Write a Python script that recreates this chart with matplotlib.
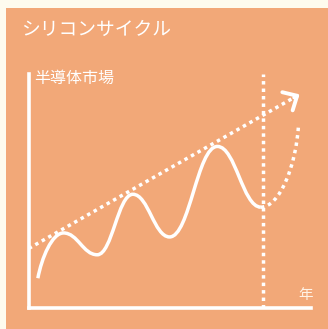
import matplotlib
matplotlib.use("Agg")
import matplotlib.pyplot as plt
from matplotlib.path import Path
from matplotlib.patches import PathPatch, Rectangle

plt.rcParams['font.family'] = ['Noto Sans CJK JP', 'DejaVu Sans']

# ---- data (arbitrary units: year 0..10, market 0..10) ----
cycle_years = [0.32, 1.23, 2.42, 3.68, 4.98, 6.67, 8.21]
cycle_market = [1.27, 3.20, 2.27, 4.85, 3.03, 6.89, 4.30]
forecast_years = [8.21, 9.54]
forecast_market = [4.30, 7.80]
trend_years = [0.0, 9.58]
trend_market = [2.54, 9.11]
now_year = 8.28

title = "シリコンサイクル"
ylabel = "半導体市場"
xlabel = "年"

BG = "#FEFBEE"
ORANGE = "#F2A878"
WHITE = "#FFFFFF"

W, H = 328, 329
fig = plt.figure(figsize=(W / 100, H / 100), dpi=100)
fig.patch.set_facecolor(BG)
fig.add_artist(Rectangle((6 / W, 0), 1, (H - 8) / H, transform=fig.transFigure,
                         facecolor=ORANGE, edgecolor='none', zorder=0))

left, right, top, bottom = 28.8, 311.5, 73.5, 308.0
ax = fig.add_axes([left / W, (H - bottom) / H, (right - left) / W, (bottom - top) / H])
ax.set_facecolor('none')
ax.set_xlim(0, 10)
ax.set_ylim(0, 10)
for s in ['top', 'right']:
    ax.spines[s].set_visible(False)
for s in ['left', 'bottom']:
    ax.spines[s].set_color(WHITE)
    ax.spines[s].set_linewidth(2.6)
ax.set_xticks([])
ax.set_yticks([])

LW = 2.5
DOT = (0, (1, 1.15))

# solid cycle curve via cubic Bezier segments
verts = [(cycle_years[0], cycle_market[0])]
codes = [Path.MOVETO]
for i in range(len(cycle_years) - 1):
    x0, y0 = cycle_years[i], cycle_market[i]
    x1, y1 = cycle_years[i + 1], cycle_market[i + 1]
    dx, dy = x1 - x0, y1 - y0
    if i == 0:
        c1 = (x0 + 0.15 * dx, y0 + 0.45 * dy)
        c2 = (x1 - 0.45 * dx, y1)
    else:
        k = 0.42
        c1 = (x0 + k * dx, y0)
        c2 = (x1 - k * dx, y1)
    verts += [c1, c2, (x1, y1)]
    codes += [Path.CURVE4] * 3
ax.add_patch(PathPatch(Path(verts, codes), facecolor='none', edgecolor=WHITE,
                       lw=LW, capstyle='butt', zorder=3))

# forecast dotted curve
x0, y0 = forecast_years[0], forecast_market[0]
x1, y1 = forecast_years[1], forecast_market[1]
dx, dy = x1 - x0, y1 - y0
fverts = [(x0, y0), (x0 + 0.49 * dx, y0), (x1 - 0.06 * dx, y0 + 0.5 * dy), (x1, y1)]
fcodes = [Path.MOVETO, Path.CURVE4, Path.CURVE4, Path.CURVE4]
ax.add_patch(PathPatch(Path(fverts, fcodes), facecolor='none', edgecolor=WHITE,
                       lw=LW, linestyle=DOT, capstyle='butt', zorder=3))

# trend dotted line with arrow head
ax.plot(trend_years, trend_market, color=WHITE, lw=LW, linestyle=DOT,
        dash_capstyle='butt', zorder=3, clip_on=False)
tx = trend_years[1] - 0.02 * (trend_years[1] - trend_years[0])
ty = trend_market[1] - 0.02 * (trend_market[1] - trend_market[0])
ax.annotate('', xy=(trend_years[1], trend_market[1]), xytext=(tx, ty),
            arrowprops=dict(arrowstyle='->,head_length=0.8,head_width=0.75',
                            mutation_scale=10, color=WHITE, lw=2.8,
                            shrinkA=0, shrinkB=0), zorder=4, annotation_clip=False)

# "now" vertical dotted line
ax.axvline(now_year, ymin=0, ymax=1, color=WHITE, lw=LW, linestyle=DOT,
           dash_capstyle='butt', zorder=2)

# texts
fig.text(21 / W, 1 - 29 / H, title, color=WHITE, fontsize=13.5, va='center', ha='left')
fig.text(34 / W, 1 - 78 / H, ylabel, color=WHITE, fontsize=11.5, va='center', ha='left')
fig.text(313 / W, 1 - 295 / H, xlabel, color="#FFF3E6", fontsize=10.5, va='center', ha='right')

fig.savefig("out.png", dpi=100, facecolor=BG)
